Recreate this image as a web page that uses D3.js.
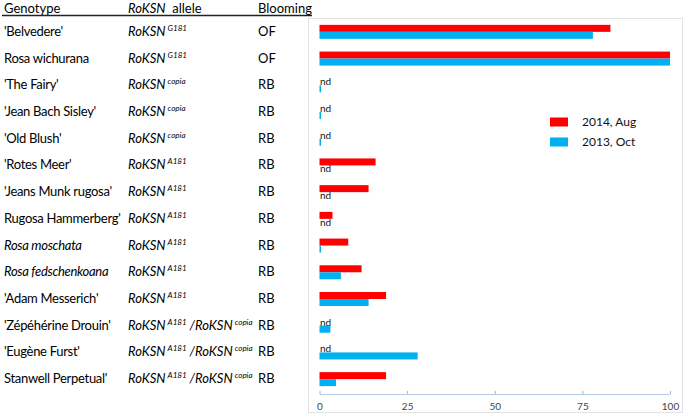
<!DOCTYPE html>
<html>
<head>
<meta charset="utf-8">
<script src="https://cdn.jsdelivr.net/npm/d3@7"></script>
<style>
  body { margin: 0; background: #fff; }
  svg { font-family: Lato, "Open Sans", sans-serif; }
</style>
</head>
<body>
<div id="chart"></div>
<script>
// table + bar values (null = nd)
const genotypes = ["'Belvedere'", "Rosa wichurana", "'The Fairy'", "'Jean Bach Sisley'", "'Old Blush'",
  "'Rotes Meer'", "'Jeans Munk rugosa'", "Rugosa Hammerberg'", "Rosa moschata", "Rosa fedschenkoana",
  "'Adam Messerich'", "'Zépéhérine Drouin'", "'Eugène Furst'", "Stanwell Perpetual'"];
const italicNames = ["Rosa moschata", "Rosa fedschenkoana"];
const alleles = [["G181"], ["G181"], ["copia"], ["copia"], ["copia"], ["A181"], ["A181"], ["A181"],
  ["A181"], ["A181"], ["A181"], ["A181", "copia"], ["A181", "copia"], ["A181", "copia"]];
const blooming = ["OF", "OF", "RB", "RB", "RB", "RB", "RB", "RB", "RB", "RB", "RB", "RB", "RB", "RB"];
const aug2014 = [83, 100, null, null, null, 16, 14, 3.7, 8.2, 12, 19, null, null, 19];
const oct2013 = [78, 100, 0.4, 0.4, 0.4, null, null, null, 0.4, 6.1, 14, 3.1, 28, 4.7];
const seriesNames = ["2014, Aug", "2013, Oct"];
const seriesColors = ["#ff0000", "#00b0f0"];
const xTicks = [0, 25, 50, 75, 100];

const width = 685, height = 414;
const svg = d3.select('#chart').append('svg')
  .attr('width', width).attr('height', height);

const y0 = d3.scaleBand().domain(genotypes).range([18.5, 392.5]);
const y1 = d3.scaleBand().domain(seriesNames)
  .range([y0.bandwidth() / 2 - 7, y0.bandwidth() / 2 + 7]);
const x = d3.scaleLinear().domain([0, 100]).range([319.5, 670]);

// ---- table ----
const fs = 13;
const header = svg.append('g').attr('fill', '#000').attr('font-size', fs);
header.append('text').attr('x', 4).attr('y', 13).text('Genotype');
const ah = header.append('text').attr('x', 128).attr('y', 13);
ah.append('tspan').attr('font-style', 'italic').text('RoKSN');
ah.append('tspan').text('\u00a0 allele');
header.append('text').attr('x', 258).attr('y', 13).text('Blooming');
svg.append('line').attr('x1', 2).attr('x2', 312).attr('y1', 15.5).attr('y2', 15.5)
  .attr('stroke', '#222').attr('stroke-width', 1.5);

const rows = svg.append('g').selectAll('g').data(genotypes).join('g')
  .attr('transform', d => `translate(0,${y0(d) + y0.bandwidth() / 2 + 4})`)
  .attr('font-size', fs);

rows.append('text').attr('x', 4).attr('letter-spacing', -0.3)
  .attr('font-style', d => italicNames.includes(d) ? 'italic' : 'normal')
  .text(d => d);

rows.append('text').attr('x', 128).each(function (d, i) {
  const t = d3.select(this);
  alleles[i].forEach((sup, k) => {
    t.append('tspan').attr('font-style', 'italic').attr('dy', k ? 5 : 0)
      .text(k ? ' /RoKSN' : 'RoKSN');
    t.append('tspan').attr('font-style', 'italic').attr('font-size', 8)
      .attr('dx', 2).attr('dy', -5).text(sup);
  });
});

rows.append('text').attr('x', 258).text((d, i) => blooming[i]);

// ---- chart frame ----
svg.append('rect').attr('x', 308.5).attr('y', 18.5).attr('width', 374).attr('height', 394)
  .attr('fill', 'none').attr('stroke', '#e2e2e2');

// bars
const values = [aug2014, oct2013];
const barData = [];
genotypes.forEach((g, i) => {
  seriesNames.forEach((s, j) => barData.push({ g, s, j, v: values[j][i] }));
});

const bars = svg.append('g');
bars.selectAll('rect').data(barData.filter(d => d.v !== null)).join('rect')
  .attr('x', x(0))
  .attr('y', d => y0(d.g) + y1(d.s))
  .attr('width', d => Math.max(x(d.v) - x(0), 1.5))
  .attr('height', y1.bandwidth())
  .attr('fill', d => seriesColors[d.j]);

bars.selectAll('text').data(barData.filter(d => d.v === null)).join('text')
  .attr('x', x(0) + 0.5)
  .attr('y', d => y0(d.g) + y1(d.s) + y1.bandwidth() / 2 + 3.5)
  .attr('font-size', 10).attr('fill', '#111')
  .text('nd');

// x axis
const axis = svg.append('g').attr('transform', 'translate(0,394)')
  .call(d3.axisBottom(x).tickValues(xTicks).tickSizeInner(-3).tickSizeOuter(0).tickPadding(9));
axis.select('.domain').attr('stroke', '#b8cce0');
axis.selectAll('.tick line').attr('stroke', '#9db5cf');
axis.selectAll('.tick text').attr('font-size', 10).attr('fill', '#444')
  .attr('font-family', 'Lato, sans-serif');

// legend
const legend = svg.append('g').selectAll('g').data(seriesNames).join('g')
  .attr('transform', (d, i) => `translate(550,${117.5 + i * 20})`);
legend.append('rect').attr('width', 18).attr('height', 9)
  .attr('fill', (d, i) => seriesColors[i]);
legend.append('text').attr('x', 32).attr('y', 8.5).attr('font-size', 12)
  .attr('fill', '#111').text(d => d);
</script>
</body>
</html>
